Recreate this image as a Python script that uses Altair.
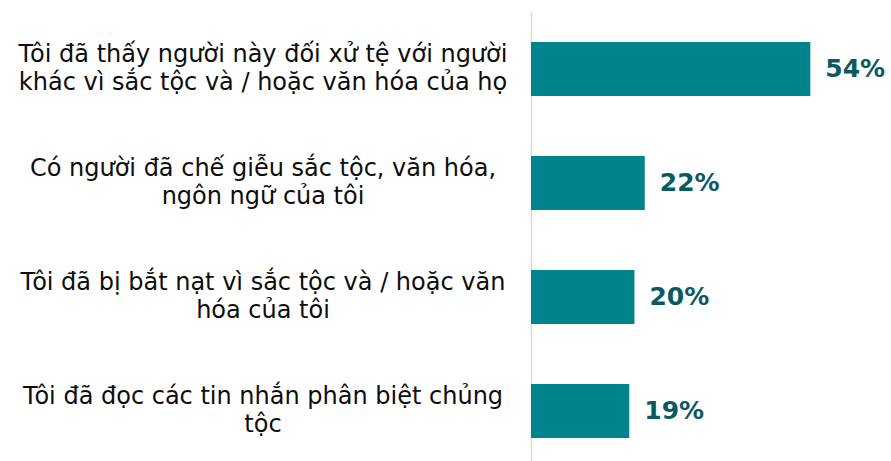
import altair as alt
import pandas as pd

categories = [
    "Tôi đã thấy người này đối xử tệ với người\nkhác vì sắc tộc và / hoặc văn hóa của họ",
    "Có người đã chế giễu sắc tộc, văn hóa,\nngôn ngữ của tôi",
    "Tôi đã bị bắt nạt vì sắc tộc và / hoặc văn\nhóa của tôi",
    "Tôi đã đọc các tin nhắn phân biệt chủng\ntộc",
]
values = [54, 22, 20, 19]
value_labels = ["54%", "22%", "20%", "19%"]

df = pd.DataFrame({"cat": categories, "val": values, "lab": value_labels})

BAR = "#00838A"
LAB = "#0B5A5F"

y = alt.Y("cat:N", sort=categories,
          scale=alt.Scale(range=[0, 456], paddingInner=0.526, paddingOuter=0.263),
          axis=alt.Axis(labels=False, ticks=False, title=None, domain=True,
                        domainColor="#d9d9d9", domainWidth=1.5, grid=False))
x = alt.X("val:Q", scale=alt.Scale(domain=[0, 69.6]), axis=None)

base = alt.Chart(df)

bars = base.mark_bar(color=BAR).encode(x=x, y=y)

vals = base.mark_text(align="left", baseline="middle", dx=15, font="DejaVu Sans",
                      fontSize=25, fontWeight="bold", color=LAB).encode(
    x=x, y=y, text="lab:N")

cats = base.mark_text(align="center", baseline="middle", dy=-14, font="DejaVu Sans",
                      fontSize=24, lineBreak="\n", lineHeight=28, color="#0d0d0d").encode(
    x=alt.value(-268), y=y, text="cat:N")

chart = alt.layer(bars, vals, cats).properties(
    width=360, height=449,
    padding={"left": 531, "top": 12, "right": 0, "bottom": 0},
    autosize=alt.AutoSizeParams(type="none"),
).configure_view(stroke=None)

chart.save("out.html", embed_options={"renderer": "svg", "actions": False})
